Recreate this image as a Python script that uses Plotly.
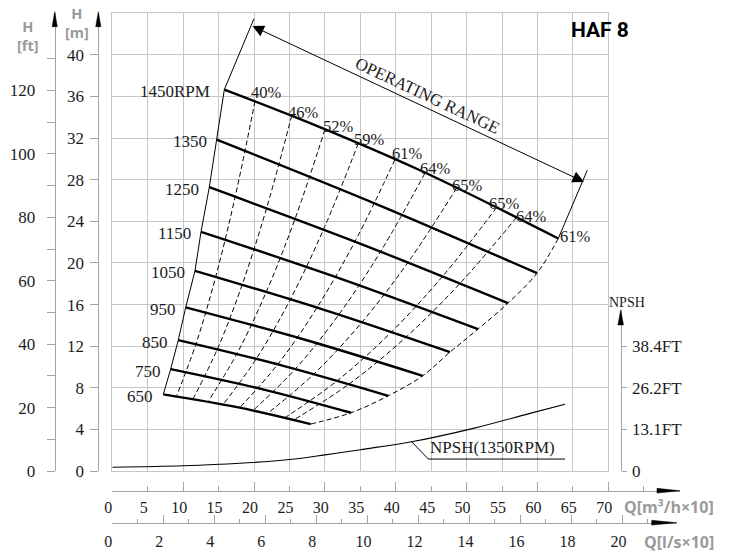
import math
import plotly.graph_objects as go

# ---------------- data ----------------
rpm_labels = ["1450RPM", "1350", "1250", "1150", "1050", "950", "850", "750", "650"]

q_1450 = [15.81, 28.0, 43.42, 62.94]
h_1450 = [36.67, 33.42, 28.91, 22.35]
q_1350 = [14.73, 37.34, 59.94]
h_1350 = [31.86, 25.64, 19.02]
q_1250 = [13.69, 34.77, 55.84]
h_1250 = [27.28, 21.91, 16.14]
q_1150 = [12.52, 32.07, 51.61]
h_1150 = [22.99, 18.52, 13.64]
q_1050 = [11.67, 29.67, 47.66]
h_1050 = [19.24, 15.54, 11.43]
q_950 = [10.36, 27.08, 43.80]
h_950 = [15.73, 12.64, 9.15]
q_850 = [9.31, 24.13, 38.95]
h_850 = [12.58, 10.11, 7.23]
q_750 = [8.24, 20.97, 33.69]
h_750 = [9.80, 7.90, 5.60]
q_650 = [7.20, 17.6, 28.0]
h_650 = [7.37, 6.14, 4.51]

# iso-efficiency (dashed) curves, from the 1450 curve down to the 650 curve
eff_q = [
    [20.14, 17.36, 14.58, 11.81, 9.03],
    [25.32, 21.83, 18.33, 14.84, 11.35],
    [30.02, 25.88, 21.74, 17.60, 13.46],
    [34.72, 29.93, 25.14, 20.35, 15.57],
    [39.90, 34.40, 28.89, 23.39, 17.89],
    [44.13, 38.04, 31.95, 25.87, 19.78],
    [48.60, 41.90, 35.19, 28.49, 21.79],
    [54.25, 46.77, 39.28, 31.80, 24.32],
    [57.07, 49.20, 41.32, 33.45, 25.58],
]
eff_h = [
    [35.55, 26.42, 18.64, 12.22, 7.15],
    [34.16, 25.39, 17.91, 11.74, 6.87],
    [32.85, 24.41, 17.23, 11.29, 6.60],
    [31.50, 23.41, 16.52, 10.82, 6.33],
    [29.95, 22.26, 15.71, 10.29, 6.02],
    [28.64, 21.29, 15.02, 9.84, 5.76],
    [27.21, 20.22, 14.27, 9.35, 5.47],
    [25.35, 18.84, 13.29, 8.71, 5.10],
    [24.39, 18.13, 12.79, 8.38, 4.90],
]

eff_labels = ["40%", "46%", "52%", "59%", "61%", "64%", "65%", "65%", "64%", "61%"]
eff_label_q = [21.79, 26.95, 31.89, 36.23, 41.66, 45.65, 50.13, 55.42, 59.19, 65.30]
eff_label_h = [36.38, 34.44, 33.09, 31.87, 30.55, 29.08, 27.47, 25.72, 24.43, 22.51]

npsh_q = [0, 10, 18, 25, 30, 35, 42.25, 50.95, 58.95, 63.89]
npsh_h = [0.36, 0.50, 0.74, 1.10, 1.55, 2.05, 2.81, 4.10, 5.54, 6.41]
npsh_leader_q = [42.25, 44.6, 63.9]
npsh_leader_h = [2.81, 1.15, 1.15]

# operating range dimension
op_tip_q = [19.57, 66.57]
op_tip_h = [42.84, 27.79]
op_ext_left_end = (20.0, 43.49)
op_ext_right_end = (67.03, 28.91)
op_text_pos = (44.44, 36.13)

# axes ticks
m_ticks = list(range(0, 41, 4))
ft_ticks = list(range(0, 131, 10))
ft_text = [str(v) if v % 20 == 0 else "" for v in ft_ticks]
q_ticks = list(range(0, 76, 5))
q_text = [str(v) if v <= 70 else "" for v in q_ticks]
q_major = list(range(0, 71, 10))
ls_ticks = list(range(0, 22))
ls_text = [str(v) if v % 2 == 0 else "" for v in ls_ticks]
ls_major = list(range(0, 21, 2))
npsh_ticks = [0, 4, 8, 12]
npsh_text = ["0", "13.1FT", "26.2FT", "38.4FT"]

# ---------------- geometry ----------------
W, H = 733, 555
X0, X1 = 112.3, 608.3      # plot frame (px)
Y0, Y1 = 471.0, 13.3
Q_MAX, H_MAX = 70, 44
PX_Q = (X1 - X0) / Q_MAX
PX_H = (Y0 - Y1) / H_MAX


def fx(px):
    return px / W


def fy(py):
    return 1 - py / H


SERIF = "Liberation Serif"
SANS = "Open Sans"
GRID = "#c6c6c6"
AXC = "#a4a4a4"
TXT = "#1c1c1c"
LBL = "#9a9a9a"

curves = [(q_1450, h_1450), (q_1350, h_1350), (q_1250, h_1250), (q_1150, h_1150),
          (q_1050, h_1050), (q_950, h_950), (q_850, h_850), (q_750, h_750), (q_650, h_650)]

fig = go.Figure()

# dashed iso-efficiency curves
for qs, hs in zip(eff_q, eff_h):
    fig.add_trace(go.Scatter(x=qs, y=hs, mode="lines", hoverinfo="skip",
                             line=dict(color="black", width=1, dash="5px,3px", shape="spline")))
# right envelope (dashed) through right ends
fig.add_trace(go.Scatter(x=[c[0][-1] for c in curves], y=[c[1][-1] for c in curves], mode="lines",
                         hoverinfo="skip", line=dict(color="black", width=1, dash="5px,3px", shape="spline")))
# left envelope (thin solid) through left ends
fig.add_trace(go.Scatter(x=[c[0][0] for c in curves], y=[c[1][0] for c in curves], mode="lines",
                         hoverinfo="skip", line=dict(color="black", width=1)))
# performance curves
for qs, hs in curves:
    fig.add_trace(go.Scatter(x=qs, y=hs, mode="lines", hoverinfo="skip",
                             line=dict(color="black", width=2.4, shape="spline")))
# extension lines of operating range
fig.add_trace(go.Scatter(x=[q_1450[0], op_ext_left_end[0]], y=[h_1450[0], op_ext_left_end[1]],
                         mode="lines", hoverinfo="skip", line=dict(color="black", width=1)))
fig.add_trace(go.Scatter(x=[q_1450[-1], op_ext_right_end[0]], y=[h_1450[-1], op_ext_right_end[1]],
                         mode="lines", hoverinfo="skip", line=dict(color="black", width=1)))
# NPSH curve and leader
fig.add_trace(go.Scatter(x=npsh_q, y=npsh_h, mode="lines", hoverinfo="skip",
                         line=dict(color="black", width=1.1, shape="spline")))
fig.add_trace(go.Scatter(x=npsh_leader_q, y=npsh_leader_h, mode="lines", hoverinfo="skip",
                         line=dict(color="black", width=1)))

# invisible anchor traces so that the secondary axes get drawn
for xa, ya in [("x", "y2"), ("x", "y3"), ("x2", "y4"), ("x3", "y4"), ("x4", "y4"), ("x5", "y4")]:
    fig.add_trace(go.Scatter(x=[1], y=[1], xaxis=xa, yaxis=ya, mode="markers", hoverinfo="skip",
                             marker=dict(opacity=0, size=1)))

annotations = []
# rpm labels
for (qs, hs), lab in zip(curves, rpm_labels):
    annotations.append(dict(x=qs[0], y=hs[0], xref="x", yref="y", text=lab, showarrow=False,
                            xanchor="right", yanchor="middle", xshift=-8 if lab != "1450RPM" else -12,
                            yshift=-2, font=dict(family=SERIF, size=17, color=TXT)))
# efficiency labels
for q, h, lab in zip(eff_label_q, eff_label_h, eff_labels):
    annotations.append(dict(x=q, y=h, xref="x", yref="y", text=lab, showarrow=False,
                            xanchor="center", yanchor="middle",
                            font=dict(family=SERIF, size=16.5, color=TXT)))
# operating range arrow + text
annotations.append(dict(x=op_tip_q[1], y=op_tip_h[1], ax=op_tip_q[0], ay=op_tip_h[0],
                        xref="x", yref="y", axref="x", ayref="y", text="", showarrow=True,
                        arrowhead=2, arrowside="end+start", arrowsize=2.3, arrowwidth=1,
                        arrowcolor="black", standoff=0, startstandoff=0))
ang = math.degrees(math.atan(((op_tip_h[0] - op_tip_h[1]) * PX_H) / ((op_tip_q[1] - op_tip_q[0]) * PX_Q)))
annotations.append(dict(x=op_text_pos[0], y=op_text_pos[1], xref="x", yref="y", text="OPERATING RANGE",
                        showarrow=False, textangle=ang, xanchor="center", yanchor="middle",
                        font=dict(family=SERIF, size=17, color=TXT)))
# NPSH label
annotations.append(dict(x=npsh_leader_q[1], y=npsh_leader_h[1], xref="x", yref="y", text="NPSH(1350RPM)",
                        showarrow=False, xanchor="left", yanchor="bottom",
                        font=dict(family=SERIF, size=17, color=TXT)))
# title
annotations.append(dict(x=fx(600), y=fy(30), xref="paper", yref="paper", text="HAF 8", showarrow=False,
                        xanchor="center", yanchor="middle",
                        font=dict(family="Liberation Sans Narrow, Roboto, sans-serif", size=21,
                                  color="black", weight=700)))
# axis names (two-line labels)
for txt, px, py in [("H<br>[ft]", 28, 36), ("H<br>[m]", 77, 23)]:
    annotations.append(dict(x=fx(px), y=fy(py), xref="paper", yref="paper", text=txt, showarrow=False,
                            xanchor="center", yanchor="middle", align="center",
                            font=dict(family=SANS, size=14.5, color=LBL, weight=700)))
annotations.append(dict(x=fx(716), y=fy(506.7), xref="paper", yref="paper", text="Q[m³/h×10]",
                        showarrow=False, xanchor="right", yanchor="middle",
                        font=dict(family=SANS, size=16, color=LBL, weight=700)))
annotations.append(dict(x=fx(716), y=fy(541.7), xref="paper", yref="paper", text="Q[l/s×10]",
                        showarrow=False, xanchor="right", yanchor="middle",
                        font=dict(family=SANS, size=16, color=LBL, weight=700)))
annotations.append(dict(x=fx(627), y=fy(302.7), xref="paper", yref="paper", text="NPSH",
                        showarrow=False, xanchor="center", yanchor="middle",
                        font=dict(family=SERIF, size=14, color=TXT)))


def tri(tip, base_center, half):
    (tx, ty), (bx, by) = tip, base_center
    dx, dy = tx - bx, ty - by
    n = math.hypot(dx, dy)
    px_, py_ = -dy / n * half, dx / n * half
    pts = [(tx, ty), (bx + px_, by + py_), (bx - px_, by - py_)]
    path = "M " + " L ".join(f"{fx(x):.5f},{fy(y):.5f}" for x, y in pts) + " Z"
    return dict(type="path", xref="paper", yref="paper", path=path, fillcolor="black",
                line=dict(color="black", width=0.5))


shapes = [
    tri((98.3, 11.7), (98.3, 26.7), 2.6),
    tri((54.7, 11.7), (54.7, 26.7), 2.6),
    tri((620.7, 310), (620.7, 325), 2.8),
    tri((680, 490.7), (657, 490.7), 2.4),
    tri((676.7, 522.7), (651.7, 522.7), 2.4),
]

POS_XQ = fy(490.7)
POS_XLS = fy(522.7)
XQ_RANGE = [0, (680 - X0) / PX_Q]
XLS_RANGE = [0, (676.7 - X0) / (PX_Q * 3.6)]

common = dict(automargin=False, fixedrange=True)

fig.update_layout(
    width=W, height=H, margin=dict(l=0, r=0, t=0, b=0, autoexpand=False),
    paper_bgcolor="white", plot_bgcolor="rgba(0,0,0,0)", showlegend=False,
    annotations=annotations, shapes=shapes,
    xaxis=dict(domain=[fx(X0), fx(X1)], range=[0, Q_MAX], tickvals=list(range(0, 71, 5)),
               showticklabels=False, ticks="", showgrid=True, gridcolor=GRID, gridwidth=1.2,
               zeroline=False, showline=True, mirror=True, linecolor=GRID, linewidth=1.2, **common),
    yaxis=dict(domain=[fy(Y0), fy(Y1)], range=[0, H_MAX], tickvals=list(range(0, 45, 4)),
               showticklabels=False, ticks="", showgrid=True, gridcolor=GRID, gridwidth=1.2,
               zeroline=False, showline=True, mirror=True, linecolor=GRID, linewidth=1.2, **common),
    yaxis2=dict(overlaying="y", anchor="free", position=fx(98.3), side="left", range=[0, H_MAX],
                tickvals=m_ticks, ticks="outside", ticklen=8, tickcolor=AXC, showline=True,
                linecolor=AXC, showgrid=False, zeroline=False, ticklabelstandoff=3,
                tickfont=dict(family=SERIF, size=17, color=TXT), **common),
    yaxis3=dict(overlaying="y", anchor="free", position=fx(54.7), side="left", range=[0, H_MAX / 0.3048],
                tickvals=ft_ticks, ticktext=ft_text, ticks="outside", ticklen=8, tickcolor=AXC,
                showline=True, linecolor=AXC, showgrid=False, zeroline=False, ticklabelstandoff=8,
                tickfont=dict(family=SERIF, size=17, color=TXT), **common),
    yaxis4=dict(anchor="free", position=fx(620.7), side="right", domain=[fy(Y0), fy(310)],
                range=[0, (Y0 - 310) / PX_H], tickvals=npsh_ticks, ticktext=npsh_text,
                ticks="outside", ticklen=5, tickcolor=AXC, showline=True, linecolor=AXC,
                showgrid=False, zeroline=False, ticklabelstandoff=2,
                tickfont=dict(family=SERIF, size=17, color=TXT), **common),
    xaxis2=dict(anchor="free", position=POS_XQ, side="bottom", domain=[fx(X0), fx(680)],
                range=XQ_RANGE, tickvals=q_ticks, ticktext=q_text, ticks="inside",
                ticklen=5, tickcolor=AXC, showline=True, linecolor=AXC, showgrid=False, zeroline=False,
                ticklabelshift=-4, ticklabelstandoff=2, tickfont=dict(family=SERIF, size=16, color=TXT),
                **common),
    xaxis3=dict(overlaying="x2", anchor="free", position=POS_XQ, side="bottom",
                range=XQ_RANGE, tickvals=q_major, ticks="inside", ticklen=9,
                tickcolor=AXC, showticklabels=False, showline=False, showgrid=False, zeroline=False,
                **common),
    xaxis4=dict(anchor="free", position=POS_XLS, side="bottom", domain=[fx(X0), fx(676.7)],
                range=XLS_RANGE, tickvals=ls_ticks, ticktext=ls_text,
                ticks="inside", ticklen=4, tickcolor=AXC, showline=True, linecolor=AXC, showgrid=False,
                zeroline=False, ticklabelshift=-4, ticklabelstandoff=4,
                tickfont=dict(family=SERIF, size=16, color=TXT), **common),
    xaxis5=dict(overlaying="x4", anchor="free", position=POS_XLS, side="bottom",
                range=XLS_RANGE, tickvals=ls_major, ticks="inside", ticklen=8,
                tickcolor=AXC, showticklabels=False, showline=False, showgrid=False, zeroline=False,
                **common),
)

fig.write_html("out.html", config={"displayModeBar": False},
               post_script="document.body.style.margin='0';")
